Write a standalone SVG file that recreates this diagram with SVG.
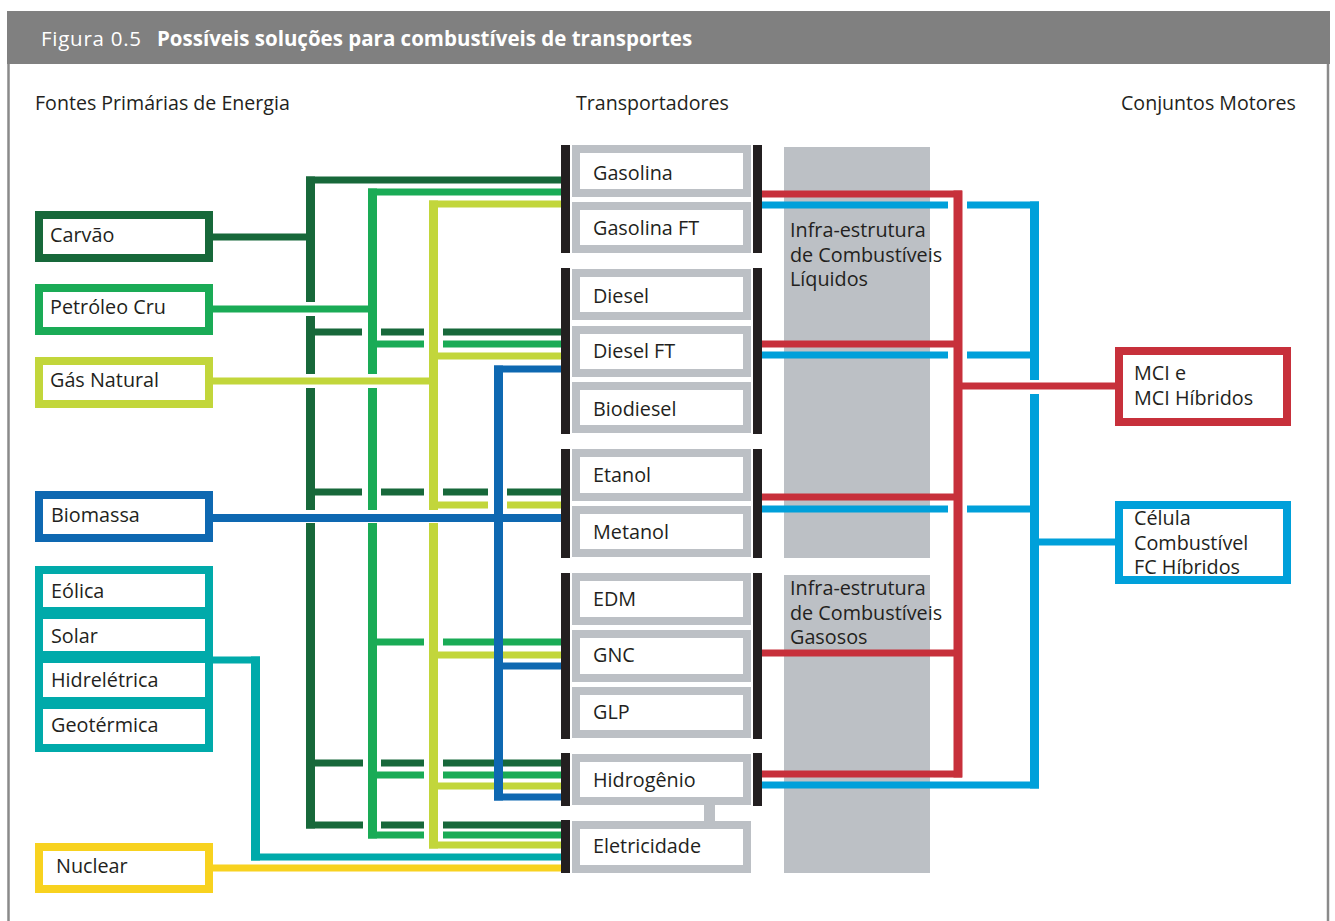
<svg xmlns="http://www.w3.org/2000/svg" width="1335" height="921" viewBox="0 0 1335 921">
<style>
  text { font-family: "Open Sans", "Noto Sans", "DejaVu Sans", sans-serif; fill: #231f20; }
  .lbl { font-size: 19.8px; }
  .head { font-size: 19.6px; }
  .title { font-size: 20.5px; fill: #ffffff; }
  .hv { stroke-width: 7; fill: none; stroke-linecap: butt; }
  .vv { stroke-width: 9; fill: none; stroke-linecap: butt; }
  .dg { stroke: #17683a; }
  .lg { stroke: #1aab56; }
  .yg { stroke: #c2d63b; }
  .bl { stroke: #0e68b1; }
  .tl { stroke: #00aaaa; }
  .ny { stroke: #f8d21f; }
  .rd { stroke: #c7303b; }
  .cy { stroke: #00a0da; }
  .src { fill: #ffffff; stroke-width: 8; }
  .tbox { fill: #ffffff; stroke: #bcc0c5; stroke-width: 8; }
  .bar { fill: #231f20; }
  .band { fill: #bcc0c5; }
</style>

<!-- frame -->
<rect x="7" y="11" width="1323" height="53" fill="#808080"/>
<line x1="8.5" y1="64" x2="8.5" y2="921" stroke="#8a8a8a" stroke-width="2.5"/>
<line x1="1328" y1="64" x2="1328" y2="921" stroke="#8a8a8a" stroke-width="2.5"/>
<text class="title" x="41" y="46" textLength="100" lengthAdjust="spacing">Figura 0.5</text>
<text class="title" x="157" y="46" font-weight="bold">Possíveis soluções para combustíveis de transportes</text>

<text class="head" x="35" y="110">Fontes Primárias de Energia</text>
<text class="head" x="576" y="110">Transportadores</text>
<text class="head" x="1121" y="110">Conjuntos Motores</text>

<!-- infrastructure bands -->
<g id="infra-liquidos">
  <rect class="band" x="784" y="147" width="146" height="411"/>
  <text class="lbl" x="790" y="237">Infra-estrutura<tspan x="790" dy="24.5">de Combustíveis</tspan><tspan x="790" dy="24.5">Líquidos</tspan></text>
</g>
<g id="infra-gasosos">
  <rect class="band" x="784" y="575" width="146" height="298"/>
  <text class="lbl" x="790" y="595">Infra-estrutura<tspan x="790" dy="24.5">de Combustíveis</tspan><tspan x="790" dy="24.5">Gasosos</tspan></text>
</g>

<!-- connectors -->
<g id="connectors">
  <!-- dark green (Carvão) -->
  <g class="dg">
    <line class="hv" x1="213" y1="237" x2="315" y2="237"/>
    <line class="hv" x1="306" y1="180" x2="561" y2="180"/>
    <line class="vv" x1="310.5" y1="176.5" x2="310.5" y2="302"/>
    <line class="vv" x1="310.5" y1="316" x2="310.5" y2="374"/>
    <line class="vv" x1="310.5" y1="388" x2="310.5" y2="510"/>
    <line class="vv" x1="310.5" y1="523" x2="310.5" y2="828.5"/>
    <path class="hv" d="M315 332H362M381 332H424M443 332H561"/>
    <path class="hv" d="M315 492H362M381 492H424M443 492H488M507 492H561"/>
    <path class="hv" d="M315 763H363M381 763H424M443 763H561"/>
    <path class="hv" d="M306 825H363M381 825H424M443 825H561"/>
  </g>
  <!-- light green (Petróleo) -->
  <g class="lg">
    <line class="hv" x1="213" y1="309" x2="377" y2="309"/>
    <line class="hv" x1="368" y1="192" x2="561" y2="192"/>
    <line class="vv" x1="372.5" y1="188.5" x2="372.5" y2="374"/>
    <line class="vv" x1="372.5" y1="388" x2="372.5" y2="510"/>
    <line class="vv" x1="372.5" y1="523" x2="372.5" y2="838.5"/>
    <path class="hv" d="M377 344H424M443 344H561"/>
    <path class="hv" d="M377 642H424M443 642H561"/>
    <path class="hv" d="M377 775H424M443 775H561"/>
    <path class="hv" d="M368 835H424M443 835H561"/>
  </g>
  <!-- yellow green (Gás Natural) -->
  <g class="yg">
    <line class="hv" x1="213" y1="381" x2="438" y2="381"/>
    <line class="hv" x1="429" y1="204" x2="561" y2="204"/>
    <line class="vv" x1="433.5" y1="200.5" x2="433.5" y2="510"/>
    <line class="vv" x1="433.5" y1="523" x2="433.5" y2="848.5"/>
    <line class="hv" x1="438" y1="356" x2="561" y2="356"/>
    <path class="hv" d="M438 505H488M507 505H561"/>
    <line class="hv" x1="438" y1="655" x2="561" y2="655"/>
    <line class="hv" x1="438" y1="786" x2="561" y2="786"/>
    <line class="hv" x1="429" y1="845" x2="561" y2="845"/>
  </g>
  <!-- blue (Biomassa) -->
  <g class="bl">
    <line x1="213" y1="518" x2="561" y2="518" stroke-width="8"/>
    <line class="hv" x1="494" y1="369" x2="561" y2="369"/>
    <line class="hv" x1="503" y1="666" x2="561" y2="666"/>
    <line class="hv" x1="494" y1="797" x2="561" y2="797"/>
    <line class="vv" x1="498.5" y1="365.5" x2="498.5" y2="800.5"/>
  </g>
  <!-- teal (renováveis) -->
  <g class="tl">
    <line class="hv" x1="213" y1="660" x2="260" y2="660"/>
    <line class="vv" x1="255.5" y1="656.5" x2="255.5" y2="860.5"/>
    <line class="hv" x1="251" y1="857" x2="561" y2="857"/>
  </g>
  <!-- yellow (Nuclear) -->
  <line class="hv ny" x1="213" y1="868" x2="561" y2="868"/>

  <!-- red (MCI) -->
  <g class="rd">
    <line class="hv" x1="762" y1="194" x2="962" y2="194"/>
    <line class="vv" x1="958" y1="190.5" x2="958" y2="777.5"/>
    <line class="hv" x1="762" y1="344" x2="954" y2="344"/>
    <line class="hv" x1="762" y1="497" x2="954" y2="497"/>
    <line class="hv" x1="762" y1="653" x2="954" y2="653"/>
    <line class="hv" x1="762" y1="774" x2="962" y2="774"/>
    <line class="hv" x1="962" y1="386" x2="1115" y2="386"/>
  </g>
  <!-- cyan (Célula Combustível) -->
  <g class="cy">
    <path class="hv" d="M762 205H948M967 205H1039"/>
    <path class="hv" d="M762 355H948M967 355H1030"/>
    <path class="hv" d="M762 509H948M967 509H1030"/>
    <line class="hv" x1="762" y1="785" x2="1039" y2="785"/>
    <line class="vv" x1="1034.5" y1="201.5" x2="1034.5" y2="380"/>
    <line class="vv" x1="1034.5" y1="394" x2="1034.5" y2="788.5"/>
    <line class="hv" x1="1039" y1="542" x2="1115" y2="542"/>
  </g>
  <!-- Hidrogênio to Eletricidade -->
  <rect x="704" y="805" width="11" height="16" fill="#bcc0c5"/>
</g>

<!-- carrier bars -->
<g id="bars">
  <rect class="bar" x="561" y="145" width="9" height="108"/>
  <rect class="bar" x="561" y="268" width="9" height="166"/>
  <rect class="bar" x="561" y="449" width="9" height="109"/>
  <rect class="bar" x="561" y="573" width="9" height="166"/>
  <rect class="bar" x="561" y="753" width="9" height="53"/>
  <rect class="bar" x="561" y="820" width="9" height="53"/>
  <rect class="bar" x="753" y="145" width="9" height="108"/>
  <rect class="bar" x="753" y="268" width="9" height="166"/>
  <rect class="bar" x="753" y="449" width="9" height="109"/>
  <rect class="bar" x="753" y="573" width="9" height="166"/>
  <rect class="bar" x="753" y="753" width="9" height="53"/>
</g>

<!-- primary sources -->
<g id="carvao"><rect class="src" x="39" y="215" width="170" height="43" stroke="#17683a"/><text class="lbl" x="50" y="242">Carvão</text></g>
<g id="petroleo"><rect class="src" x="39" y="288" width="170" height="43" stroke="#1aab56"/><text class="lbl" x="50" y="314">Petróleo Cru</text></g>
<g id="gas-natural"><rect class="src" x="39" y="361" width="170" height="43" stroke="#c2d63b"/><text class="lbl" x="50" y="387">Gás Natural</text></g>
<g id="biomassa"><rect class="src" x="39" y="495" width="170" height="43" stroke="#0e68b1"/><text class="lbl" x="51" y="522">Biomassa</text></g>
<g id="eolica"><rect class="src" x="39" y="570" width="170" height="41" stroke="#00aaaa"/><text class="lbl" x="51" y="598">Eólica</text></g>
<g id="solar"><rect class="src" x="39" y="615" width="170" height="40" stroke="#00aaaa"/><text class="lbl" x="51" y="643">Solar</text></g>
<g id="hidreletrica"><rect class="src" x="39" y="659" width="170" height="42" stroke="#00aaaa"/><text class="lbl" x="51" y="687">Hidrelétrica</text></g>
<g id="geotermica"><rect class="src" x="39" y="705" width="170" height="43" stroke="#00aaaa"/><text class="lbl" x="51" y="732">Geotérmica</text></g>
<g id="nuclear"><rect class="src" x="39" y="847" width="170" height="42" stroke="#f8d21f"/><text class="lbl" x="56" y="873">Nuclear</text></g>

<!-- carriers -->
<g id="gasolina"><rect class="tbox" x="576" y="149" width="171" height="44"/><text class="lbl" x="593" y="180">Gasolina</text></g>
<g id="gasolina-ft"><rect class="tbox" x="576" y="206" width="171" height="43"/><text class="lbl" x="593" y="235">Gasolina FT</text></g>
<g id="diesel"><rect class="tbox" x="576" y="273" width="171" height="43"/><text class="lbl" x="593" y="303">Diesel</text></g>
<g id="diesel-ft"><rect class="tbox" x="576" y="330" width="171" height="43"/><text class="lbl" x="593" y="358">Diesel FT</text></g>
<g id="biodiesel"><rect class="tbox" x="576" y="386" width="171" height="43"/><text class="lbl" x="593" y="416">Biodiesel</text></g>
<g id="etanol"><rect class="tbox" x="576" y="453" width="171" height="44"/><text class="lbl" x="593" y="482">Etanol</text></g>
<g id="metanol"><rect class="tbox" x="576" y="510" width="171" height="43"/><text class="lbl" x="593" y="539">Metanol</text></g>
<g id="edm"><rect class="tbox" x="576" y="577" width="171" height="44"/><text class="lbl" x="593" y="606">EDM</text></g>
<g id="gnc"><rect class="tbox" x="576" y="634" width="171" height="44"/><text class="lbl" x="593" y="662">GNC</text></g>
<g id="glp"><rect class="tbox" x="576" y="691" width="171" height="43"/><text class="lbl" x="593" y="719">GLP</text></g>
<g id="hidrogenio"><rect class="tbox" x="576" y="758" width="171" height="43"/><text class="lbl" x="593" y="787">Hidrogênio</text></g>
<g id="eletricidade"><rect class="tbox" x="576" y="825" width="171" height="44"/><text class="lbl" x="593" y="853">Eletricidade</text></g>

<!-- power trains -->
<g id="mci"><rect class="src" x="1119" y="351" width="168" height="71" stroke="#c7303b"/><text class="lbl" x="1134" y="380">MCI e<tspan x="1134" dy="25">MCI Híbridos</tspan></text></g>
<g id="celula"><rect class="src" x="1119" y="505" width="168" height="75" stroke="#00a0da"/><text class="lbl" x="1134" y="525">Célula<tspan x="1134" dy="24.5">Combustível</tspan><tspan x="1134" dy="24.5">FC Híbridos</tspan></text></g>
</svg>
